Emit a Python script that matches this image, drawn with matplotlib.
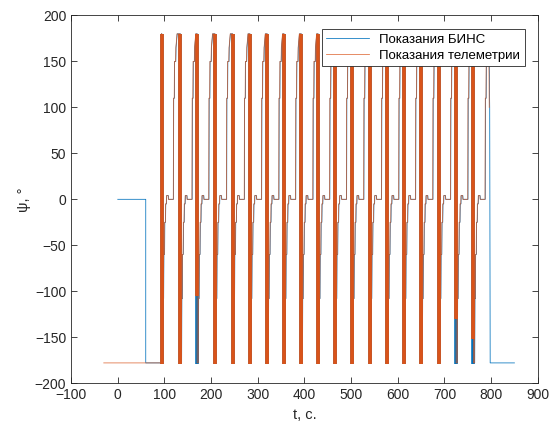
import matplotlib
matplotlib.use("Agg")
import matplotlib.pyplot as plt
import numpy as np

plt.rcParams['font.family'] = ['Liberation Sans', 'DejaVu Sans']

# moments of the -180/+180 wrap (centre of the thick bars), s
wrap_t = [94, 134, 170, 208, 246, 283, 320, 356, 393, 429, 465, 502, 540,
          577, 613, 650, 688, 725, 762]
# lower end of the orange (telemetry) bar for each wrap, deg
tele_bar_low = [-179, -179, -105, -179, -179, -179, -179, -179, -179, -179,
                -179, -179, -179, -179, -179, -179, -179, -130, -152]

# staircase inside one revolution: time after wrap (s) and heading (deg)
step_dt = [2.5, 3.0, 4.0, 4.5, 6.0, 6.5, 8.0, 8.5, 10.0, 10.5, 14.0, 14.5,
           25.0, 25.5, 27.0, 27.5, 30.0, 30.5, 33.0]
step_psi = [-178, -108, -108, -60, -60, -25, -25, -5, -5, 4, 4, 0,
            0, 110, 110, 150, 150, 165, 180]

# start / end pieces
bins_start_t = [0, 60, 60]
bins_start_psi = [0, 0, -178]
bins_end_t = [797, 798, 850]
bins_end_psi = [100, -178, -178]
tele_start_t = [-30]
tele_start_psi = [-178]
tele_end_t = [796]
tele_end_psi = [100]

BLUE = '#0072BD'
ORANGE = '#D95319'


def build(start_t, start_psi, end_t, end_psi, shift):
    t = list(start_t)
    p = list(start_psi)
    t_stop = end_t[0]
    for T in wrap_t:
        T = T + shift
        # hold last value up to the wrap, then jump through the bar
        t += [T, T, T]
        p += [p[-1], 180, -178]
        for dt, v in zip(step_dt, step_psi):
            if T + dt < t_stop:
                t.append(T + dt)
                p.append(v)
    t += list(end_t)
    p += list(end_psi)
    return np.array(t), np.array(p)


bins_t, bins_psi = build(bins_start_t, bins_start_psi, bins_end_t, bins_end_psi, 0.4)
tele_t, tele_psi = build(tele_start_t, tele_start_psi, tele_end_t, tele_end_psi, 0.0)

fig = plt.figure(figsize=(5.51, 4.30), dpi=100)
ax = fig.add_axes([0.129, 0.109, 0.847, 0.855])

ax.plot(bins_t, bins_psi, color=BLUE, lw=0.55, label='Показания БИНС')
ax.vlines(wrap_t, -179, 180, color=BLUE, lw=2.6)
ax.plot(tele_t, tele_psi, color=ORANGE, lw=0.55, alpha=0.85,
        label='Показания телеметрии')
ax.vlines(wrap_t, tele_bar_low, 180, color=ORANGE, lw=2.7)

ax.set_xlim(-100, 900)
ax.set_ylim(-200, 200)
ax.set_xticks(np.arange(-100, 901, 100))
ax.set_yticks(np.arange(-200, 201, 50))
ax.tick_params(direction='in', length=4, width=0.6, top=True, right=True,
               labelsize=10, colors='#262626')
for s in ax.spines.values():
    s.set_linewidth(0.6)
    s.set_color('#262626')

ax.set_xlabel('t, c.', fontsize=10.5, color='#262626')
ax.set_ylabel('ψ, °', fontsize=10.5, color='#262626', labelpad=3)

leg = ax.legend(loc='upper right', bbox_to_anchor=(0.972, 0.964),
                borderaxespad=0, fancybox=False, framealpha=1,
                edgecolor='#262626', fontsize=9.5, handlelength=3.2,
                borderpad=0.35, labelspacing=0.3)
leg.get_frame().set_linewidth(0.6)

fig.savefig('out.png', dpi=100)
